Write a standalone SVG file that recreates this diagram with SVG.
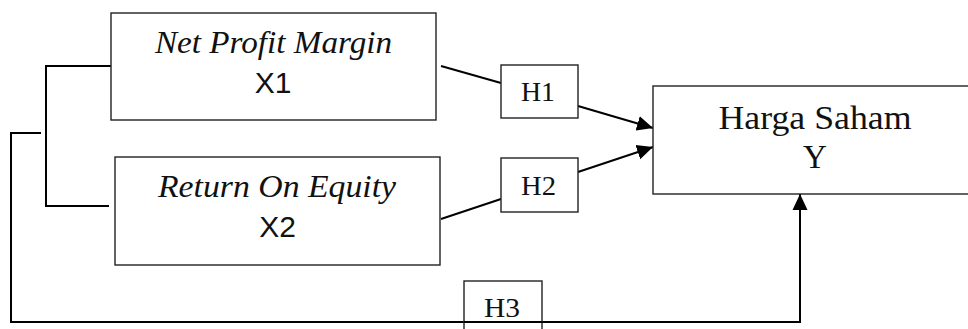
<svg xmlns="http://www.w3.org/2000/svg" width="968" height="329" viewBox="0 0 968 329">
<defs>
<marker id="arr" markerUnits="userSpaceOnUse" markerWidth="16" markerHeight="16" viewBox="0 0 16 16" refX="16" refY="8" orient="auto">
<path d="M0,0.5 L16,8 L0,15.5 Z" fill="#000"/>
</marker>
<style>
.box{fill:#fff;stroke:#222;stroke-width:1.4}
.ln{fill:none;stroke:#000;stroke-width:2}
.it{font-family:"Liberation Serif",serif;font-style:italic;font-size:32px;fill:#111}
.sans{font-family:"Liberation Sans",sans-serif;font-size:30px;fill:#111}
.ser{font-family:"Liberation Serif",serif;fill:#111}
</style>
</defs>
<rect width="968" height="329" fill="#fff"/>
<g id="connectors">
<polyline class="ln" points="111,66 46,66 46,206 109,206"/>
<polyline class="ln" points="41,133 11,133 11,322 800,322 800,196"/>
<line class="ln" x1="441" y1="66" x2="501" y2="83"/>
<line class="ln" x1="578" y1="106" x2="653" y2="128" marker-end="url(#arr)"/>
<line class="ln" x1="441" y1="219" x2="501" y2="199"/>
<line class="ln" x1="578" y1="172" x2="653" y2="147" marker-end="url(#arr)"/>
<line class="ln" x1="800" y1="322" x2="800" y2="194" marker-end="url(#arr)"/>
</g>
<g id="x1">
<rect class="box" x="111" y="13" width="325" height="107"/>
<text class="it" x="273.5" y="53" text-anchor="middle" textLength="237" lengthAdjust="spacingAndGlyphs">Net Profit Margin</text>
<text class="sans" x="273" y="93" text-anchor="middle">X1</text>
</g>
<g id="x2">
<rect class="box" x="115" y="157" width="325" height="108"/>
<text class="it" x="277" y="197" text-anchor="middle" textLength="238" lengthAdjust="spacingAndGlyphs">Return On Equity</text>
<text class="sans" x="277.5" y="237" text-anchor="middle">X2</text>
</g>
<g id="y">
<rect class="box" x="653" y="86" width="330" height="108"/>
<text class="ser" x="815" y="129" font-size="34" text-anchor="middle" textLength="193" lengthAdjust="spacingAndGlyphs">Harga Saham</text>
<text class="ser" x="815" y="168" font-size="33" text-anchor="middle">Y</text>
</g>
<g id="h1">
<rect class="box" x="501" y="65" width="77" height="53"/>
<text class="ser" x="538" y="101" font-size="27" text-anchor="middle" textLength="34" lengthAdjust="spacingAndGlyphs">H1</text>
</g>
<g id="h2">
<rect class="box" x="501" y="158" width="77" height="54"/>
<text class="ser" x="538.5" y="195" font-size="27" text-anchor="middle" textLength="35" lengthAdjust="spacingAndGlyphs">H2</text>
</g>
<g id="h3">
<rect class="box" x="464" y="281" width="78" height="60"/>
<line class="ln" x1="464" y1="322" x2="542" y2="322"/>
<text class="ser" x="502" y="317" font-size="27" text-anchor="middle" textLength="36" lengthAdjust="spacingAndGlyphs">H3</text>
</g>
</svg>
